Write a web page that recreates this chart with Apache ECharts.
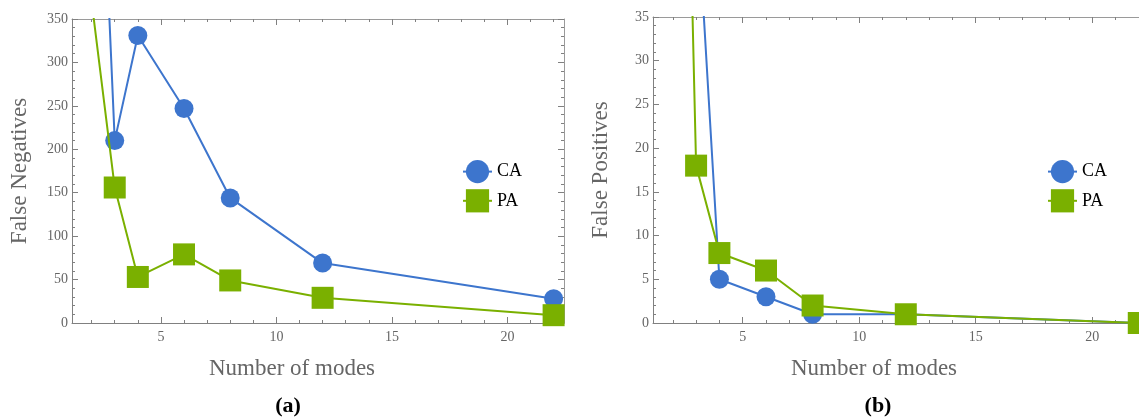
<!DOCTYPE html>
<html>
<head>
<meta charset="utf-8">
<script src="https://cdn.jsdelivr.net/npm/echarts@6/dist/echarts.min.js"></script>
<style>
html,body{margin:0;padding:0;background:#fff;}
#chart{width:1139px;height:417px;}
</style>
</head>
<body>
<div id="chart"></div>
<script>
// ---- data ----
const modes = [2, 3, 4, 6, 8, 12, 22];
const caFalseNegatives = [820, 210, 331, 247, 144, 69, 28];
const paFalseNegatives = [370, 156, 53, 79, 49, 29, 9];
const caFalsePositives = [400, 50, 5, 3, 1, 1, 0];
const paFalsePositives = [130, 18, 8, 6, 2, 1, 0];
const seriesNames = ['CA', 'PA'];
const xTickLabels = [5, 10, 15, 20];
const xMinorTicks = [2, 3, 4, 6, 7, 8, 9, 11, 12, 13, 14, 16, 17, 18, 19, 21, 22];
const xRangeA = [1.15, 22.45];
const xRangeB = [1.15, 22.01];   // panel (b) is cut off at the image edge
const fnRange = [0, 350];
const fnInterval = 50;
const fpRange = [0, 35];
const fpInterval = 5;
const panelLabels = ['(a)', '(b)'];
const xTitle = 'Number of modes';
const yTitles = ['False Negatives', 'False Positives'];

// ---- styling ----
const FONT = 'Liberation Serif';
const BLUE = '#3d75cd';
const GREEN = '#7ab000';
const AXIS = '#808080';
const LABEL = '#666666';

function pairXY(xs, ys) { return xs.map((x, i) => [x, ys[i]]); }

function xAxes(gridIndex, range) {
  const base = {
    type: 'value', gridIndex: gridIndex, min: range[0], max: range[1],
    splitLine: { show: false }
  };
  return [
    Object.assign({}, base, {
      position: 'bottom',
      axisLine: { show: true, lineStyle: { color: AXIS, width: 1 } },
      axisTick: { show: true, inside: true, length: 6, customValues: xTickLabels, lineStyle: { color: AXIS } },
      axisLabel: { show: true, customValues: xTickLabels, color: LABEL, fontFamily: FONT, fontSize: 14, margin: 7 }
    }),
    Object.assign({}, base, {
      position: 'bottom',
      axisLine: { show: false },
      axisTick: { show: true, inside: true, length: 3, customValues: xMinorTicks, lineStyle: { color: AXIS } },
      axisLabel: { show: false }
    }),
    Object.assign({}, base, {
      position: 'top',
      axisLine: { show: true, lineStyle: { color: '#9a9a9a', width: 1 } },
      axisTick: { show: true, inside: true, length: 6, customValues: xTickLabels, lineStyle: { color: AXIS } },
      axisLabel: { show: false }
    }),
    Object.assign({}, base, {
      position: 'top',
      axisLine: { show: false },
      axisTick: { show: true, inside: true, length: 3, customValues: xMinorTicks, lineStyle: { color: AXIS } },
      axisLabel: { show: false }
    })
  ];
}

function yAxes(gridIndex, range, interval, title, showRight) {
  const base = {
    type: 'value', gridIndex: gridIndex, min: range[0], max: range[1], interval: interval,
    splitLine: { show: false },
    axisTick: { show: true, inside: true, length: 6, lineStyle: { color: AXIS } },
    minorTick: { show: true, splitNumber: 5, length: 3, lineStyle: { color: AXIS } }
  };
  return [
    Object.assign({}, base, {
      position: 'left',
      name: title, nameLocation: 'middle', nameGap: 41, nameRotate: 90,
      nameTextStyle: { fontFamily: FONT, fontSize: 23, color: LABEL },
      axisLine: { show: true, lineStyle: { color: AXIS, width: 1 } },
      axisLabel: { show: true, color: LABEL, fontFamily: FONT, fontSize: 14, margin: 4 }
    }),
    Object.assign({}, base, {
      position: 'right', show: showRight,
      axisLine: { show: true, lineStyle: { color: '#9a9a9a', width: 1 } },
      axisLabel: { show: false }
    })
  ];
}

function lineSeries(name, xIdx, yIdx, data, color, symbol, size, z) {
  return {
    name: name, type: 'line', xAxisIndex: xIdx, yAxisIndex: yIdx,
    data: data, symbol: symbol, symbolSize: size, showSymbol: true,
    clip: true, z: z,
    lineStyle: { color: color, width: 2 },
    itemStyle: { color: color },
    emphasis: { disabled: true }
  };
}

const legendBase = {
  orient: 'vertical', itemWidth: 29, itemHeight: 29, itemGap: 6,
  data: seriesNames, selectedMode: false,
  textStyle: { fontFamily: FONT, fontSize: 18, color: '#000' }
};

const option = {
  animation: false,
  backgroundColor: '#ffffff',
  grid: [
    { left: 72, top: 19, right: 575, bottom: 94 },
    { left: 653, top: 17, right: 0, bottom: 94 }
  ],
  xAxis: xAxes(0, xRangeA).concat(xAxes(1, xRangeB)),
  yAxis: yAxes(0, fnRange, fnInterval, yTitles[0], true).concat(yAxes(1, fpRange, fpInterval, yTitles[1], false)),
  legend: [
    Object.assign({ left: 457, top: 155 }, legendBase),
    Object.assign({ left: 1042, top: 155 }, legendBase)
  ],
  series: [
    lineSeries(seriesNames[0], 0, 0, pairXY(modes, caFalseNegatives), BLUE, 'circle', 19, 2),
    lineSeries(seriesNames[1], 0, 0, pairXY(modes, paFalseNegatives), GREEN, 'rect', 22, 3),
    lineSeries(seriesNames[0], 4, 2, pairXY(modes, caFalsePositives), BLUE, 'circle', 19, 2),
    lineSeries(seriesNames[1], 4, 2, pairXY(modes, paFalsePositives), GREEN, 'rect', 22, 3)
  ],
  graphic: [
    { type: 'text', x: 292, y: 369, style: { text: xTitle, align: 'center', verticalAlign: 'middle', font: '23px "Liberation Serif"', fill: LABEL } },
    { type: 'text', x: 874, y: 369, style: { text: xTitle, align: 'center', verticalAlign: 'middle', font: '23px "Liberation Serif"', fill: LABEL } },
    { type: 'text', x: 288, y: 406, style: { text: panelLabels[0], align: 'center', verticalAlign: 'middle', font: 'bold 22px "Liberation Serif"', fill: '#000' } },
    { type: 'text', x: 878, y: 406, style: { text: panelLabels[1], align: 'center', verticalAlign: 'middle', font: 'bold 22px "Liberation Serif"', fill: '#000' } }
  ]
};

const chart = echarts.init(document.getElementById('chart'), null, { renderer: 'canvas' });
chart.setOption(option);
</script>
</body>
</html>
